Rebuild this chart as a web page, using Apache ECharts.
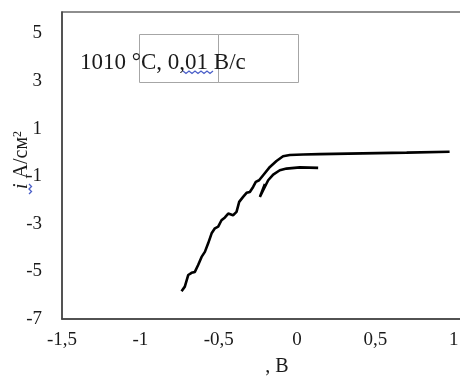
<!DOCTYPE html>
<html><head><meta charset="utf-8">
<script src="https://cdn.jsdelivr.net/npm/echarts@6/dist/echarts.min.js"></script>
<style>html,body{margin:0;padding:0;background:#fff}#c{width:460px;height:377px}</style>
</head><body><div id="c"></div>
<script>
// Main curve (V, A/cm2)
const mainX = [-0.737,-0.716,-0.694,-0.673,-0.652,-0.631,-0.609,-0.588,-0.567,-0.545,-0.524,-0.503,-0.482,-0.46,-0.439,-0.408,-0.386,-0.369,-0.344,-0.322,-0.301,-0.28,-0.263,-0.242,-0.216,-0.173,-0.131,-0.089,-0.046,0.039,0.145,0.42,0.7,0.974];
const mainY = [-5.83,-5.64,-5.15,-5.06,-5.02,-4.73,-4.39,-4.18,-3.82,-3.40,-3.19,-3.12,-2.85,-2.73,-2.57,-2.64,-2.50,-2.08,-1.87,-1.70,-1.66,-1.45,-1.24,-1.17,-0.96,-0.61,-0.36,-0.16,-0.11,-0.09,-0.07,-0.04,-0.01,0.03];
// Second (reverse) curve
const backX = [-0.205,-0.237,-0.216,-0.184,-0.152,-0.11,-0.067,0.018,0.135];
const backY = [-1.33,-1.87,-1.59,-1.17,-0.93,-0.75,-0.68,-0.63,-0.65];
const xTicks = {min:-1.5, max:1.5, step:0.5};
const yTicks = {min:-7, max:5.9, step:2};
const title = '1010 °C, 0,01 B/c';
const xName = ', B';
const yName = '{it|i} A/см{sup|2}';

const zip = (a,b) => a.map((v,i)=>[v,b[i]]);
const chart = echarts.init(document.getElementById('c'));
const serif = 'Liberation Serif';
chart.setOption({
  animation:false,
  grid:{left:62, top:12, bottom:58, right:-72, containLabel:false, outerBoundsMode:'none', show:true, borderColor:'#6a6a6a', borderWidth:1.5},
  xAxis:{type:'value', min:xTicks.min, max:xTicks.max, interval:xTicks.step,
    axisLine:{onZero:false, lineStyle:{color:'#404040', width:1.5}}, axisTick:{show:false}, splitLine:{show:false},
    axisLabel:{margin:12, color:'#1a1a1a', fontFamily:serif, fontSize:19, formatter:v=>String(v).replace('.',',')}},
  yAxis:{type:'value', min:yTicks.min, max:yTicks.max, interval:yTicks.step,
    axisLine:{onZero:false, lineStyle:{color:'#404040', width:1.5}}, axisTick:{show:false}, splitLine:{show:false},
    axisLabel:{margin:20, color:'#1a1a1a', fontFamily:serif, fontSize:19, formatter:v=>Number.isInteger(v)?String(v):''}},
  series:[
    {type:'line', data:zip(mainX,mainY), showSymbol:false, lineStyle:{color:'#000', width:2.6}},
    {type:'line', data:zip(backX,backY), showSymbol:false, lineStyle:{color:'#000', width:2.6}}
  ],
  graphic:[
    {type:'rect', shape:{x:139.5,y:34.5,width:79,height:48}, style:{fill:'none', stroke:'#a6a6a6', lineWidth:1}},
    {type:'rect', shape:{x:218.5,y:34.5,width:80,height:48}, style:{fill:'none', stroke:'#a6a6a6', lineWidth:1}},
    {type:'text', x:80, y:63, style:{text:title, font:'23px "Liberation Serif"', fill:'#1a1a1a', textVerticalAlign:'middle'}},
    {type:'polyline', shape:{points:[[183,71],[186,73.5],[189,71],[192,73.5],[195,71],[198,73.5],[201,71],[204,73.5],[207,71],[210,73.5],[213,71]]}, style:{stroke:'#4a5fc8', lineWidth:1.3, fill:'none'}},
    {type:'text', x:22, y:160, rotation:Math.PI/2,
      style:{text:yName, fill:'#1a1a1a', font:'20px "Liberation Serif"', align:'center', verticalAlign:'middle',
        rich:{it:{fontStyle:'italic', fontFamily:serif, fontSize:20, fill:'#1a1a1a'},
              sup:{fontSize:12, fontFamily:serif, verticalAlign:'top', fill:'#1a1a1a'}}}},
    {type:'polyline', shape:{points:[[29,184],[31.5,186.5],[29,189],[31.5,191.5],[29,194]]}, style:{stroke:'#4a5fc8', lineWidth:1.3, fill:'none'}},
    {type:'text', x:277, y:367, style:{text:xName, font:'20px "Liberation Serif"', fill:'#1a1a1a', textAlign:'center', textVerticalAlign:'middle'}}
  ]
});
</script></body></html>
